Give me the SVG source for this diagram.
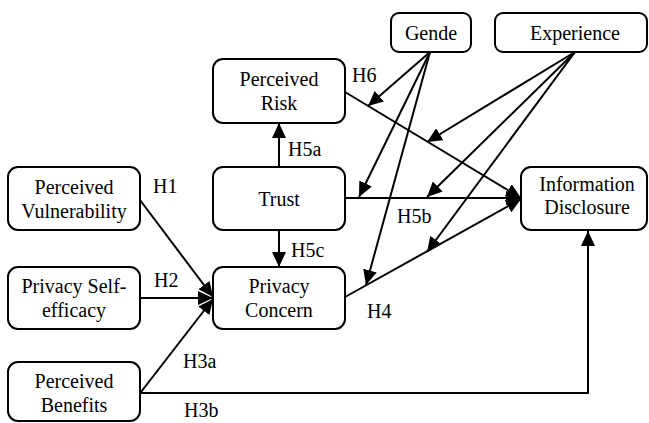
<svg xmlns="http://www.w3.org/2000/svg" width="649" height="423" viewBox="0 0 649 423">
<defs>
<marker id="ah" markerUnits="userSpaceOnUse" markerWidth="15" markerHeight="14" refX="15" refY="7" orient="auto">
<path d="M0,0 L15,7 L0,14 z" fill="#000"/>
</marker>
</defs>
<rect width="649" height="423" fill="#fff"/>
<g id="connectors" fill="none" stroke="#000" stroke-width="2">
<line x1="279" y1="167" x2="279" y2="123" marker-end="url(#ah)"/>
<line x1="279" y1="230" x2="279" y2="267" marker-end="url(#ah)"/>
<line x1="140" y1="200" x2="213" y2="297" marker-end="url(#ah)"/>
<line x1="140" y1="298" x2="213" y2="298" marker-end="url(#ah)"/>
<line x1="141" y1="392" x2="213" y2="299" marker-end="url(#ah)"/>
<path d="M140,393 H588 V231" marker-end="url(#ah)"/>
<line x1="345" y1="92" x2="521" y2="198" marker-end="url(#ah)"/>
<line x1="345" y1="198" x2="521" y2="198" marker-end="url(#ah)"/>
<line x1="345" y1="297" x2="521" y2="199" marker-end="url(#ah)"/>
<line x1="430" y1="52" x2="368" y2="106" marker-end="url(#ah)"/>
<line x1="430" y1="52" x2="359" y2="197" marker-end="url(#ah)"/>
<line x1="430" y1="52" x2="366" y2="285" marker-end="url(#ah)"/>
<line x1="575" y1="52" x2="427" y2="142" marker-end="url(#ah)"/>
<line x1="575" y1="52" x2="427" y2="197" marker-end="url(#ah)"/>
<line x1="575" y1="52" x2="427" y2="252" marker-end="url(#ah)"/>
</g>
<g id="labels">
<text font-family="Liberation Serif" font-size="20" x="352" y="82">H6</text>
<text font-family="Liberation Serif" font-size="20" x="288" y="156">H5a</text>
<text font-family="Liberation Serif" font-size="20" x="153" y="193">H1</text>
<text font-family="Liberation Serif" font-size="20" x="397" y="223">H5b</text>
<text font-family="Liberation Serif" font-size="20" x="291" y="257">H5c</text>
<text font-family="Liberation Serif" font-size="20" x="154" y="287">H2</text>
<text font-family="Liberation Serif" font-size="20" x="367" y="318">H4</text>
<text font-family="Liberation Serif" font-size="20" x="183" y="368">H3a</text>
<text font-family="Liberation Serif" font-size="20" x="184" y="417">H3b</text>
</g>
<g id="perceived-risk">
<rect fill="#fff" stroke="#000" stroke-width="2" x="213" y="59" width="132" height="64" rx="10"/>
<text font-family="Liberation Serif" font-size="20" text-anchor="middle" x="279" y="86">Perceived</text>
<text font-family="Liberation Serif" font-size="20" text-anchor="middle" x="279" y="110">Risk</text>
</g>
<g id="trust">
<rect fill="#fff" stroke="#000" stroke-width="2" x="213" y="167" width="132" height="63" rx="10"/>
<text font-family="Liberation Serif" font-size="20" text-anchor="middle" x="279" y="206">Trust</text>
</g>
<g id="perceived-vulnerability">
<rect fill="#fff" stroke="#000" stroke-width="2" x="8" y="167" width="132" height="63" rx="10"/>
<text font-family="Liberation Serif" font-size="20" text-anchor="middle" x="74" y="194">Perceived</text>
<text font-family="Liberation Serif" font-size="20" text-anchor="middle" x="74" y="218">Vulnerability</text>
</g>
<g id="privacy-self-efficacy">
<rect fill="#fff" stroke="#000" stroke-width="2" x="8" y="267" width="132" height="62" rx="10"/>
<text font-family="Liberation Serif" font-size="20" text-anchor="middle" x="74" y="293">Privacy Self-</text>
<text font-family="Liberation Serif" font-size="20" text-anchor="middle" x="74" y="317">efficacy</text>
</g>
<g id="privacy-concern">
<rect fill="#fff" stroke="#000" stroke-width="2" x="213" y="267" width="132" height="62" rx="10"/>
<text font-family="Liberation Serif" font-size="20" text-anchor="middle" x="279" y="293">Privacy</text>
<text font-family="Liberation Serif" font-size="20" text-anchor="middle" x="279" y="317">Concern</text>
</g>
<g id="perceived-benefits">
<rect fill="#fff" stroke="#000" stroke-width="2" x="8" y="362" width="132" height="59" rx="10"/>
<text font-family="Liberation Serif" font-size="20" text-anchor="middle" x="74" y="388">Perceived</text>
<text font-family="Liberation Serif" font-size="20" text-anchor="middle" x="74" y="412">Benefits</text>
</g>
<g id="gende">
<rect fill="#fff" stroke="#000" stroke-width="2" x="391" y="13" width="80" height="39" rx="8"/>
<text font-family="Liberation Serif" font-size="20" text-anchor="middle" x="431" y="40">Gende</text>
</g>
<g id="experience">
<rect fill="#fff" stroke="#000" stroke-width="2" x="495" y="13" width="152" height="39" rx="8"/>
<text font-family="Liberation Serif" font-size="20" text-anchor="middle" x="575" y="40">Experience</text>
</g>
<g id="information-disclosure">
<rect fill="#fff" stroke="#000" stroke-width="2" x="521" y="167" width="126" height="63" rx="10"/>
<text font-family="Liberation Serif" font-size="20" text-anchor="middle" x="587" y="191">Information</text>
<text font-family="Liberation Serif" font-size="20" text-anchor="middle" x="587" y="214">Disclosure</text>
</g>
</svg>
